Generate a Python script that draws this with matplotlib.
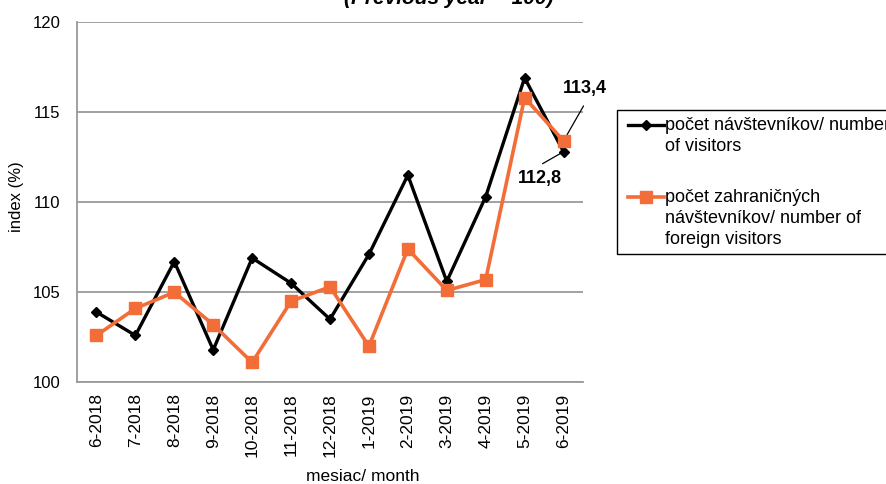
import matplotlib
matplotlib.use("Agg")
import matplotlib.pyplot as plt
from matplotlib.patches import Rectangle
from matplotlib.lines import Line2D

months = ["6-2018", "7-2018", "8-2018", "9-2018", "10-2018", "11-2018", "12-2018",
          "1-2019", "2-2019", "3-2019", "4-2019", "5-2019", "6-2019"]
visitors = [103.9, 102.6, 106.7, 101.8, 106.9, 105.5, 103.5,
            107.1, 111.5, 105.6, 110.3, 116.9, 112.8]
foreign = [102.6, 104.1, 105.0, 103.2, 101.1, 104.5, 105.3,
           102.0, 107.4, 105.1, 105.7, 115.8, 113.4]
label_visitors = "počet návštevníkov/ number\nof visitors"
label_foreign = "počet zahraničných\nnávštevníkov/ number of\nforeign visitors"
title = "(Previous year = 100)"
yticks = [100, 105, 110, 115, 120]

plt.rcParams['font.family'] = ['Liberation Sans', 'DejaVu Sans']

W, H = 887, 484
fig = plt.figure(figsize=(W / 100, H / 100), dpi=100)
ax = fig.add_axes([77 / W, 1 - 382.3 / H, (583 - 77) / W, (382.3 - 22) / H])

orange = '#F26D38'
grid_c = '#9A9A9A'
x = list(range(len(months)))
ax.plot(x, visitors, color='black', lw=2.4, marker='D', markersize=5.5, zorder=3)
ax.plot(x, foreign, color=orange, lw=2.6, marker='s', markersize=9, zorder=4)

ax.set_xlim(-0.5, len(months) - 0.5)
ax.set_ylim(100, 120)
ax.set_yticks(yticks)
ax.set_yticklabels([str(v) for v in yticks], fontsize=12)
ax.set_xticks(x)
ax.set_xticklabels(months, rotation=90, fontsize=12.5)
ax.tick_params(length=0, pad=8)
ax.tick_params(axis='y', pad=12)
ax.grid(axis='y', color=grid_c, lw=1.3)
ax.set_axisbelow(True)
for s in ['top', 'right']:
    ax.spines[s].set_visible(False)
for s in ['left', 'bottom']:
    ax.spines[s].set_color(grid_c)
    ax.spines[s].set_linewidth(1.3)

ax.set_ylabel("index (%)", fontsize=12)
ax.yaxis.set_label_coords(-0.105, 0.514)
ax.set_xlabel("mesiac/ month", fontsize=12.5)
ax.xaxis.set_label_coords(0.565, -0.24)

# annotations
ax.annotate('', xy=(12, foreign[12]), xytext=(20, 35), textcoords='offset pixels',
            arrowprops=dict(arrowstyle='-', color='black', lw=0.9, shrinkA=0, shrinkB=5))
ax.annotate('113,4', xy=(12, foreign[12]), xytext=(21, 52), textcoords='offset pixels',
            ha='center', va='center', fontsize=13, fontweight='bold')
ax.annotate('', xy=(12, visitors[12]), xytext=(-21, -12), textcoords='offset pixels',
            arrowprops=dict(arrowstyle='-', color='black', lw=0.9, shrinkA=0, shrinkB=2))
ax.annotate('112,8', xy=(12, visitors[12]), xytext=(-24, -27), textcoords='offset pixels',
            ha='center', va='center', fontsize=13, fontweight='bold')

# title (partially cut at the top, as in the reference)
fig.text(449 / W, 1 - 4 / H, title, ha='center', va='baseline', fontsize=15,
         fontweight='bold', fontstyle='italic')

# manual legend
def fx(px):
    return px / W

def fy(py):
    return 1 - py / H

fig.patches.append(Rectangle((fx(617), fy(254)), fx(300), (254 - 110) / H,
                             transform=fig.transFigure, fill=False, edgecolor='black',
                             lw=1.0))
fig.lines.append(Line2D([fx(628), fx(664)], [fy(125), fy(125)], transform=fig.transFigure,
                        color='black', lw=2.4))
fig.lines.append(Line2D([fx(646)], [fy(125)], transform=fig.transFigure,
                        color='black', marker='D', markersize=5, lw=0))
fig.lines.append(Line2D([fx(628), fx(664)], [fy(197), fy(197)], transform=fig.transFigure,
                        color=orange, lw=2.6))
fig.lines.append(Line2D([fx(646)], [fy(197)], transform=fig.transFigure,
                        color=orange, marker='s', markersize=8, lw=0))
fig.text(fx(665), fy(117), label_visitors, ha='left', va='top', fontsize=13,
         linespacing=1.3, transform=fig.transFigure)
fig.text(fx(665), fy(189), label_foreign, ha='left', va='top', fontsize=13,
         linespacing=1.3, transform=fig.transFigure)

fig.savefig('out.png', dpi=100)
